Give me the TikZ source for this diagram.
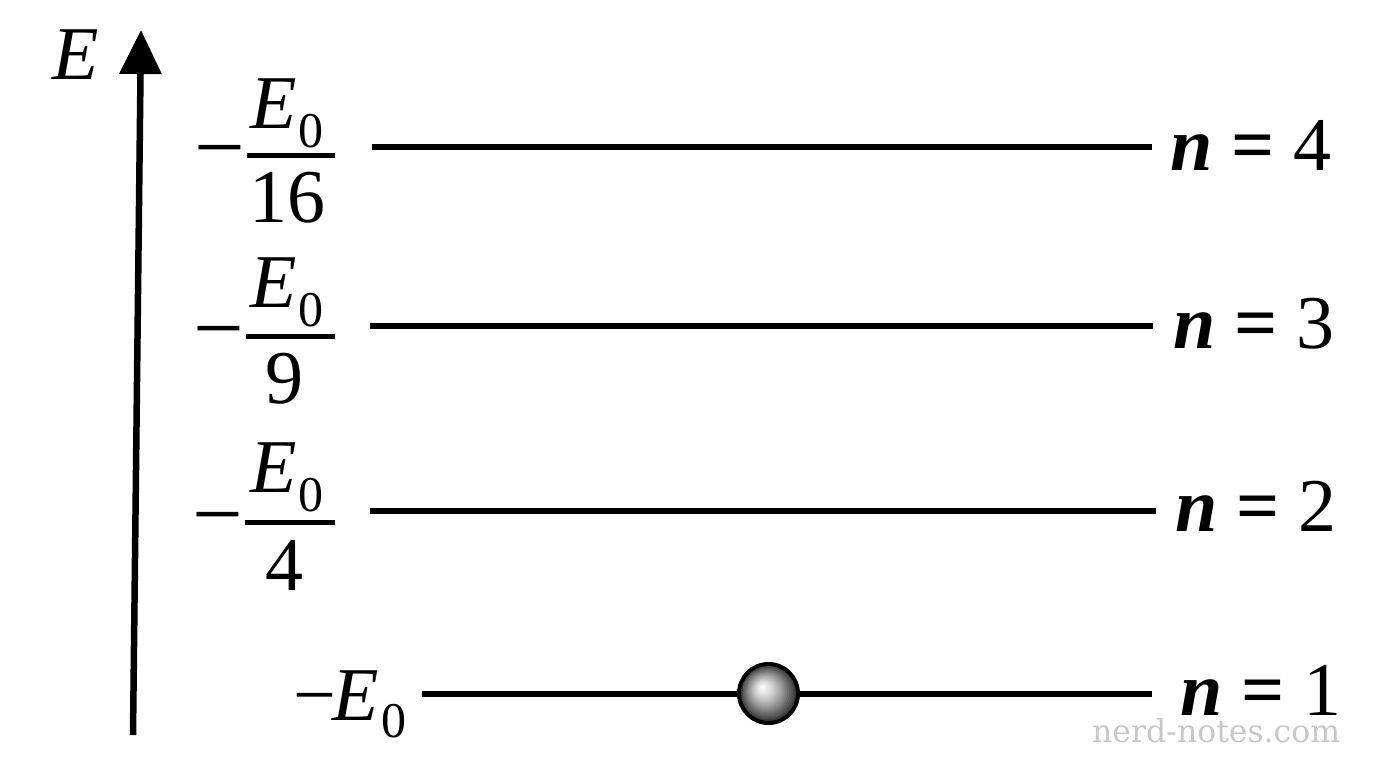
\documentclass[tikz,border=0pt]{standalone}
\usepackage{fontspec}
\setmainfont{LiberationSerif}[Extension=.ttf, UprightFont=*-Regular, BoldFont=*-Bold, ItalicFont=*-Italic, BoldItalicFont=*-BoldItalic]
\newfontfamily\wmfont{DejaVu Serif}
\usetikzlibrary{arrows.meta}
\newcommand\Ezero[1]{\textit{E}\kern2pt\raisebox{-#1}{\fontsize{50}{50}\selectfont 0}}
\newcommand\bminus{{\fontsize{90}{90}\selectfont −}}
\newcommand\beq{\textbf{=}}
\begin{document}
\begin{tikzpicture}[x=1pt,y=-1pt,
  lbl/.style={font=\fontsize{76}{80}\selectfont, inner sep=0pt, outer sep=0pt},
  level/.style={line width=5.5pt},
  fbar/.style={line width=5pt},
  axis/.style={line width=6.5pt, -{Triangle[length=44pt,width=41pt]}},
  ballnode/.style={circle, draw=black, line width=4pt, minimum size=59pt, inner sep=0pt},
  wm/.style={font=\wmfont\fontsize{31.5}{34}\selectfont, text=black!22, inner sep=0pt}]

\path[use as bounding box] (0,0) rectangle (1376,768);

% energy axis
\coordinate (axb) at (133,735);
\coordinate (axt) at (141,30);
\draw[axis] (axb) -- (axt);
\node[lbl, anchor=base west] (Elab) at (52,80) {\textit{E}};

% levels
\coordinate (l4a) at (372,147); \coordinate (l4b) at (1152,147);
\coordinate (l3a) at (370,326); \coordinate (l3b) at (1153,326);
\coordinate (l2a) at (370,511); \coordinate (l2b) at (1156,511);
\coordinate (l1a) at (422,694); \coordinate (l1b) at (1152,694);
\draw[level] (l4a) -- (l4b);
\draw[level] (l3a) -- (l3b);
\draw[level] (l2a) -- (l2b);
\draw[level] (l1a) -- (l1b);

% right labels
\node[lbl, anchor=base west] (n4) at (1170,170) {\textbf{\textit{n}} \beq{} 4};
\node[lbl, anchor=base west] (n3) at (1173,348) {\textbf{\textit{n}} \beq{} 3};
\node[lbl, anchor=base west] (n2) at (1175,531) {\textbf{\textit{n}} \beq{} 2};
\node[lbl, anchor=base west] (n1) at (1180,715) {\textbf{\textit{n}} \beq{} 1};

% left labels: -E0/16
\node[lbl, anchor=base west] (m4) at (194,177.5) {\bminus};
\coordinate (b4a) at (247,155); \coordinate (b4b) at (335,155);
\draw[fbar] (b4a) -- (b4b);
\node[lbl, anchor=base west] (num4) at (250,128) {\Ezero{19pt}};
\node[lbl, anchor=base] (den4) at (287,222) {16};

% -E0/9
\node[lbl, anchor=base west] (m3) at (193,358.5) {\bminus};
\coordinate (b3a) at (246,336); \coordinate (b3b) at (335,336);
\draw[fbar] (b3a) -- (b3b);
\node[lbl, anchor=base west] (num3) at (250,307) {\Ezero{19pt}};
\node[lbl, anchor=base] (den3) at (284,403) {9};

% -E0/4
\node[lbl, anchor=base west] (m2) at (192,544.5) {\bminus};
\coordinate (b2a) at (245,522); \coordinate (b2b) at (335,522);
\draw[fbar] (b2a) -- (b2b);
\node[lbl, anchor=base west] (num2) at (250,492) {\Ezero{19pt}};
\node[lbl, anchor=base] (den2) at (284,590) {4};

% -E0
\node[lbl, anchor=base west] (m1) at (293,720) {−\kern-3pt\Ezero{17pt}};

% electron: stepped radial gradient, then outline
\foreach \i in {0,...,19}{
  \pgfmathsetmacro\rr{29.5*(1-\i/20)}
  \pgfmathsetmacro\kk{82*(1-\i/20)^1.3}
  \pgfmathsetmacro\dd{6*\i/20}
  \fill[black!\kk] (768.5-\dd,693.5-\dd) circle[radius=\rr];
}
\node[ballnode] (ball) at (768.5,693.5) {};

% watermark
\node[wm, anchor=base west] (wmark) at (1092,742) {nerd-notes.com};
\end{tikzpicture}
\end{document}
